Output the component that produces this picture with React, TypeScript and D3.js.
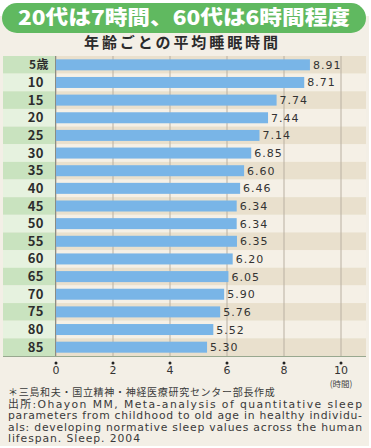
import * as d3 from 'd3';

const ages = ['5歳', '10', '15', '20', '25', '30', '35', '40', '45', '50', '55', '60', '65', '70', '75', '80', '85'];
const hours = [8.91, 8.71, 7.74, 7.44, 7.14, 6.85, 6.6, 6.46, 6.34, 6.34, 6.35, 6.2, 6.05, 5.9, 5.76, 5.52, 5.3];
const ticks = [0, 2, 4, 6, 8, 10];

const title = '20代は7時間、60代は6時間程度';
const subtitle = '年齢ごとの平均睡眠時間';
const notes = [
  '＊三島和夫・国立精神・神経医療研究センター部長作成',
  '出所:Ohayon MM, Meta-analysis of quantitative sleep',
  'parameters from childhood to old age in healthy individu-',
  'als: developing normative sleep values across the human',
  'lifespan. Sleep. 2004',
];

const W = 371;
const H = 448;
const top = 56;
const bottom = 356;
const left = 56;

const App = () => {
  const x = d3.scaleLinear().domain([0, 10]).range([left, 341]);
  const y = d3.scaleBand().domain(ages).range([top, bottom]).paddingInner(0).paddingOuter(0);
  const bh = 11;
  const rowH = y.bandwidth();

  const sans = '"Noto Sans CJK JP", "Noto Sans", sans-serif';
  const gothic = '"DejaVu Sans", "Noto Sans CJK JP", sans-serif';

  return (
    <svg width={W} height={H} style={{ position: 'absolute', left: 0, top: 0 }}>
      <rect x={0} y={0} width={W} height={H} fill='#ffffff' />
      <rect x={0} y={16} width={369} height={430} fill='#f3efe6' />

      {/* title pill */}
      <rect x={2} y={3} width={364} height={30} rx={15} fill='#60b960' />
      <text x={184} y={25} textAnchor='middle' fill='#fff' fontFamily={sans} fontWeight={900}
        fontSize={20} textLength={332} lengthAdjust='spacingAndGlyphs'>
        {title}
      </text>

      <text x={181} y={48} textAnchor='middle' fill='#2b2b2b' fontFamily={sans} fontWeight={700}
        fontSize={15} textLength={194} lengthAdjust='spacing'>
        {subtitle}
      </text>

      {/* rows */}
      {ages.map((a, i) => (
        <g key={a}>
          <rect x={3} y={y(a)} width={52} height={rowH} fill={i % 2 === 0 ? '#c9e3bf' : '#e6f2df'} />
          <rect x={left} y={y(a)} width={366 - left} height={rowH} fill={i % 2 === 0 ? '#e9e0cd' : '#f5f0e6'} />
        </g>
      ))}

      {/* grid lines */}
      {ticks.map((t) => (
        <line key={t} x1={x(t)} x2={x(t)} y1={top} y2={bottom} stroke='#b9b0a2' strokeWidth={1} />
      ))}
      <line x1={left - 0.5} x2={left - 0.5} y1={top} y2={bottom} stroke='#8c8c84' strokeWidth={1} />
      <line x1={3} x2={366} y1={bottom + 0.5} y2={bottom + 0.5} stroke='#98a88f' strokeWidth={1} />

      {/* bars */}
      {ages.map((a, i) => {
        const cy = (y(a) as number) + rowH / 2;
        return (
          <g key={a}>
            <rect x={x(0)} y={cy - bh / 2} width={x(hours[i]) - x(0)} height={bh} fill='#79b5e7' />
            <text x={x(hours[i]) + 3} y={cy + 4} fill='#333' fontFamily={gothic} fontSize={11}
              letterSpacing={1}>
              {hours[i].toFixed(2)}
            </text>
            <text x={a.includes('歳') ? 49 : 44} y={cy + 4.5} textAnchor='end' fill='#2d2d2d'
              fontFamily={sans} fontWeight={700} fontSize={a.includes('歳') ? 12 : 13} letterSpacing={0.5}>
              {a}
            </text>
          </g>
        );
      })}

      {/* axis */}
      {ticks.map((t) => (
        <g key={t}>
          <circle cx={x(t)} cy={363} r={1.5} fill='#222' />
          <text x={x(t)} y={374} textAnchor='middle' fill='#333' fontFamily={gothic} fontSize={11}>
            {t}
          </text>
        </g>
      ))}
      <text x={x(10)} y={387} textAnchor='middle' fill='#444' fontFamily={sans} fontSize={8.5}>
        (時間)
      </text>

      {/* notes */}
      {notes.map((n, i) => (
        <text key={i} x={8} y={396 + i * 11.5} fill='#3a3a3a' fontFamily={i === 0 ? sans : gothic}
          fontSize={i === 0 ? 10 : 10.8}
          letterSpacing={i === 0 ? 0.7 : undefined}
          textLength={i === 0 ? undefined : i < 4 ? 354 : 132}
          lengthAdjust='spacing'>
          {n}
        </text>
      ))}
    </svg>
  );
};

export default App;
